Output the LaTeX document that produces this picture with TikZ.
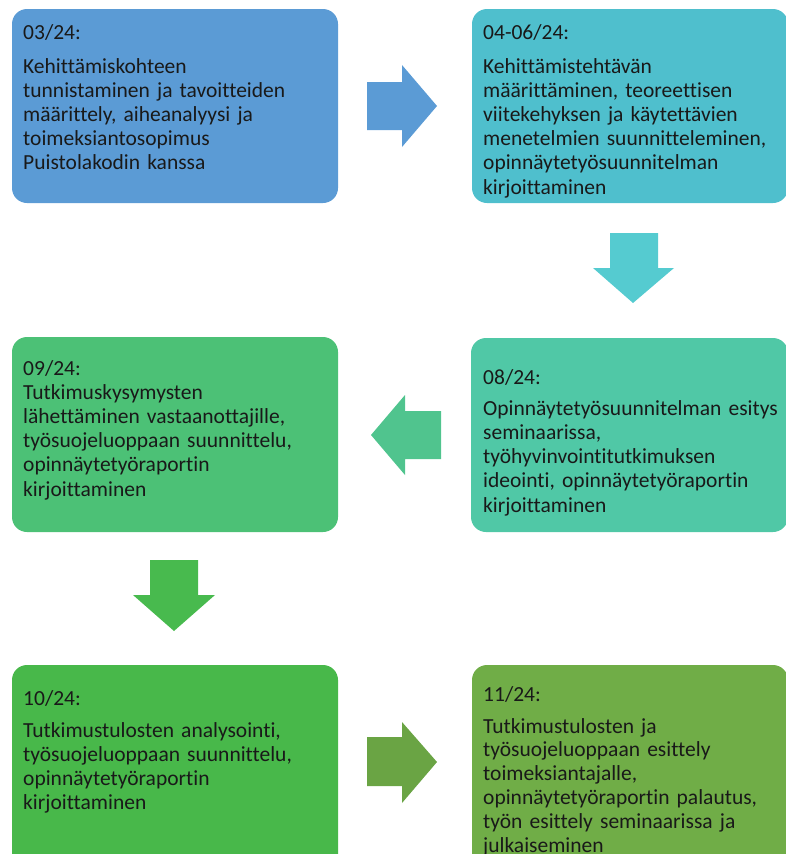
\documentclass[tikz,border=0pt]{standalone}
\usepackage{fontspec}
\setmainfont{Carlito}[Ligatures=NoCommon]
\usepackage{tikz}
\definecolor{StageBlue}{HTML}{5B9BD5}
\definecolor{StageCyan}{HTML}{4FBFCD}
\definecolor{StageAqua}{HTML}{50C8A6}
\definecolor{StageMint}{HTML}{4CC176}
\definecolor{StageGreen}{HTML}{48B84A}
\definecolor{StageOlive}{HTML}{70AD47}
\definecolor{ArrowCyan}{HTML}{55CBD0}
\definecolor{ArrowMint}{HTML}{50C48E}
\definecolor{ArrowGreen}{HTML}{48BA4E}

\begin{document}
\begin{tikzpicture}[x=1pt,y=-1pt,
  stage/.style={draw=none, rounded corners=15pt},
  stagetext/.style={anchor=base west, inner sep=0pt, text width=340pt, align=left,
    font=\fontsize{21.5}{24.2}\selectfont, text=black!90}]
  \useasboundingbox (0,0) rectangle (785,854);
  % boxes
  \fill[stage, StageBlue]  (12,9)   rectangle (338,203);
  \fill[stage, StageCyan]  (472,9)  rectangle (788,203);
  \fill[stage, StageAqua]  (471,338) rectangle (788,532);
  \fill[stage, StageMint]  (12,337) rectangle (338,532);
  \fill[stage, StageGreen] (12,665) rectangle (338,880);
  \fill[stage, StageOlive] (472,665) rectangle (788,880);
  % texts
  \node[stagetext] (t1) at (23,39) {03/24:\\[9.8pt]
    Kehittämiskohteen\\ tunnistaminen ja tavoitteiden\\ määrittely, aiheanalyysi ja\\
    toimeksiantosopimus\\ Puistolakodin kanssa};
  \node[stagetext] (t2) at (483,39) {04-06/24:\\[9.8pt]
    Kehittämistehtävän\\ määrittäminen, teoreettisen\\ viitekehyksen ja käytettävien\\
    menetelmien suunnitteleminen,\\ opinnäytetyösuunnitelman\\ kirjoittaminen};
  \node[stagetext] (t3) at (483,384) {08/24:\\[7pt]
    Opinnäytetyösuunnitelman esitys\\ seminaarissa,\\ työhyvinvointitutkimuksen\\
    ideointi, opinnäytetyöraportin\\ kirjoittaminen};
  \node[stagetext] (t4) at (23,375) {09/24:\\
    Tutkimuskysymysten\\ lähettäminen vastaanottajille,\\ työsuojeluoppaan suunnittelu,\\
    opinnäytetyöraportin\\ kirjoittaminen};
  \node[stagetext] (t5) at (23,705) {10/24:\\[7.8pt]
    Tutkimustulosten analysointi,\\ työsuojeluoppaan suunnittelu,\\
    opinnäytetyöraportin\\ kirjoittaminen};
  \node[stagetext, font=\fontsize{21.5}{23.8}\selectfont] (t6) at (483,701) {11/24:\\[8.2pt]
    Tutkimustulosten ja\\ työsuojeluoppaan esittely\\ toimeksiantajalle,\\
    opinnäytetyöraportin palautus,\\ työn esittely seminaarissa ja\\ julkaiseminen};
  % block arrows
  \fill[StageBlue] (367,82) -- (402,82) -- (402,65) -- (437,106) -- (402,147)
    -- (402,130) -- (367,130) -- cycle;
  \fill[ArrowCyan] (610,233) -- (658,233) -- (658,268) -- (674,268) -- (633,303)
    -- (593,268) -- (610,268) -- cycle;
  \fill[ArrowMint] (441,411) -- (405,411) -- (405,395) -- (371,435) -- (405,475)
    -- (405,459) -- (441,459) -- cycle;
  \fill[ArrowGreen] (150,560) -- (198,560) -- (198,595) -- (215,595) -- (174,631)
    -- (133,595) -- (150,595) -- cycle;
  \fill[StageOlive!95!black] (367,737) -- (402,737) -- (402,722) -- (437,762) -- (402,803)
    -- (402,786) -- (367,786) -- cycle;
\end{tikzpicture}
\end{document}
